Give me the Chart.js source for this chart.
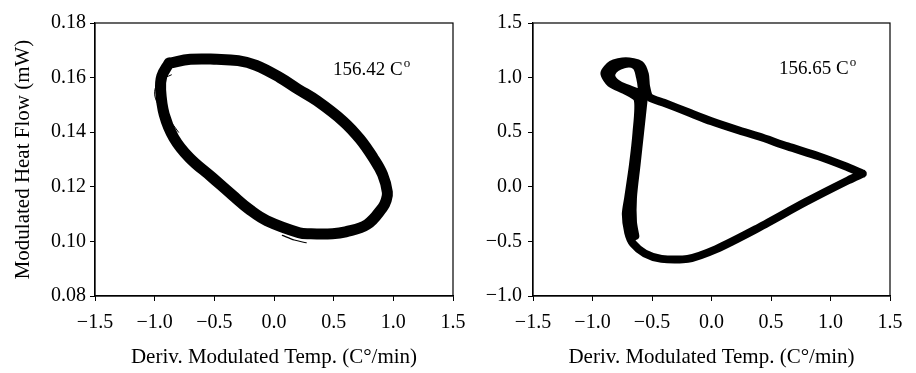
<!DOCTYPE html>
<html>
<head>
<meta charset="utf-8">
<script src="https://cdn.jsdelivr.net/npm/chart.js@4/dist/chart.umd.min.js"></script>
<style>
  body { margin: 0; background: #fff; width: 916px; height: 373px; position: relative; overflow: hidden; }
  canvas { position: absolute; top: 0; }
  #left { left: 0; }
  #right { left: 440px; }
</style>
</head>
<body>
<canvas id="left" width="480" height="373"></canvas>
<canvas id="right" width="476" height="373"></canvas>
<script>
// left panel, 156.42 C
const loopLX = [-0.88, -0.70, -0.48, -0.30, -0.15, 0.05, 0.20, 0.36, 0.58, 0.72, 0.83, 0.91, 0.95, 0.94, 0.91, 0.78, 0.60, 0.49, 0.30, 0.21, -0.06, -0.20, -0.35, -0.52, -0.71, -0.84, -0.92, -0.95, -0.94, -0.88];
const loopLY = [0.1653, 0.1667, 0.1667, 0.1662, 0.1645, 0.1600, 0.1558, 0.1515, 0.1440, 0.1375, 0.1307, 0.1245, 0.1180, 0.1150, 0.1124, 0.1062, 0.1035, 0.1028, 0.1028, 0.1032, 0.1076, 0.1115, 0.1170, 0.1235, 0.1307, 0.1380, 0.1465, 0.1554, 0.1605, 0.1653];
const thinLX = [-0.86, -0.95, -1.00, -0.97, -0.90, -0.80];
const thinLY = [0.1610, 0.1590, 0.1550, 0.1500, 0.1460, 0.1400];
const tailLX = [0.07, 0.17, 0.27];
const tailLY = [0.1022, 0.1005, 0.0995];

// right panel, 156.65 C
const loopRX = [1.27, 1.12, 0.90, 0.64, 0.40, 0.22, 0.00, -0.19, -0.40, -0.52, -0.55, -0.56, -0.60, -0.72, -0.84, -0.90, -0.85, -0.72, -0.62, -0.63, -0.66, -0.70, -0.72, -0.70, -0.66, -0.56, -0.42, -0.20, 0.04, 0.37, 0.79, 1.15, 1.27];
const loopRY = [0.12, 0.19, 0.28, 0.37, 0.46, 0.52, 0.60, 0.68, 0.77, 0.82, 0.92, 1.03, 1.12, 1.15, 1.12, 1.04, 0.95, 0.88, 0.80, 0.50, 0.20, -0.10, -0.25, -0.42, -0.52, -0.61, -0.66, -0.66, -0.57, -0.39, -0.14, 0.06, 0.12];
const knotRX = [-0.58, -0.60, -0.64, -0.74, -0.84, -0.80, -0.68, -0.58];
const knotRY = [0.85, 1.00, 1.11, 1.12, 1.04, 0.95, 0.89, 0.85];
const stemRX = [-0.57, -0.60, -0.63, -0.66, -0.66, -0.64];
const stemRY = [0.80, 0.50, 0.20, -0.10, -0.32, -0.45];

const xTitle = "Deriv. Modulated Temp. (C\u00B0/min)";
const yTitleL = "Modulated Heat Flow (mW)";
const serif = "'Liberation Serif', 'Times New Roman', serif";

function pts(xs, ys) {
  return xs.map((x, i) => ({ x: x, y: ys[i] }));
}

function fmt(dec) {
  return v => {
    let s = Number(v).toFixed(dec);
    if (Number(s) === 0) s = (0).toFixed(dec);
    return s.replace('-', '\u2212');
  };
}

function line(data, w, tension) {
  return { data: data, showLine: true, borderColor: '#000', borderWidth: w, pointRadius: 0, tension: tension, fill: false, borderCapStyle: 'round', borderJoinStyle: 'round' };
}

// box round the plot and the temperature note
const frame = {
  id: 'frame',
  afterDraw(chart, args, opts) {
    const a = chart.chartArea, c = chart.ctx;
    c.save();
    c.strokeStyle = '#000';
    c.lineWidth = 1.2;
    c.strokeRect(a.left, a.top, a.right - a.left, a.bottom - a.top);
    c.fillStyle = '#000';
    c.font = '19px ' + serif;
    c.textBaseline = 'middle';
    const x = a.left + opts.dx, y = a.top + opts.dy;
    c.fillText(opts.text, x, y);
    const w = c.measureText(opts.text).width;
    c.font = '13px ' + serif;
    c.fillText('o', x + w + 1, y - 6);
    c.restore();
  }
};

function axis(min, max, step, dec, title, tickPad, fit) {
  return {
    type: 'linear', min: min, max: max,
    ticks: { stepSize: step, color: '#000', font: { family: serif, size: 20 }, padding: tickPad, callback: fmt(dec), maxRotation: 0 },
    grid: { drawOnChartArea: false, drawTicks: true, tickLength: 5, color: '#000', tickWidth: 1 },
    border: { color: '#000', width: 1.2 },
    title: { display: !!title, text: title, color: '#000', font: { family: serif, size: 21 }, padding: { top: 0, bottom: 3 } },
    afterFit: fit
  };
}

function makeChart(id, sets, ymin, ymax, ystep, ydec, yTitle, yWidth, padRight, note) {
  return new Chart(document.getElementById(id), {
    type: 'scatter',
    data: { datasets: sets },
    options: {
      responsive: false,
      animation: false,
      layout: { padding: { top: 23, right: padRight, left: 0, bottom: 0 } },
      plugins: { legend: { display: false }, tooltip: { enabled: false }, frame: note },
      scales: {
        x: axis(-1.5, 1.5, 0.5, 1, xTitle, 10, s => { s.height = 77; }),
        y: axis(ymin, ymax, ystep, ydec, yTitle, 4, s => { s.width = yWidth; })
      }
    },
    plugins: [frame]
  });
}

const left = makeChart('left', [
  line(pts(loopLX, loopLY), 11, 0.4),
  line(pts(thinLX, thinLY), 1, 0.4),
  line(pts(tailLX, tailLY), 1.2, 0.3)
], 0.08, 0.18, 0.02, 2, yTitleL, 95, 27, { text: '156.42 C', dx: 238, dy: 47 });
left.options.scales.y.title.padding = { top: 11, bottom: 0 };
left.update();

const right = makeChart('right', [
  line(pts(loopRX, loopRY), 8, 0.25),
  line(pts(knotRX, knotRY), 8, 0.4),
  line(pts(stemRX, stemRY), 8, 0.3)
], -1.0, 1.5, 0.5, 1, '', 93, 26, { text: '156.65 C', dx: 246, dy: 46 });
right.options.scales.y.ticks.padding = 6;
right.update();
</script>
</body>
</html>
